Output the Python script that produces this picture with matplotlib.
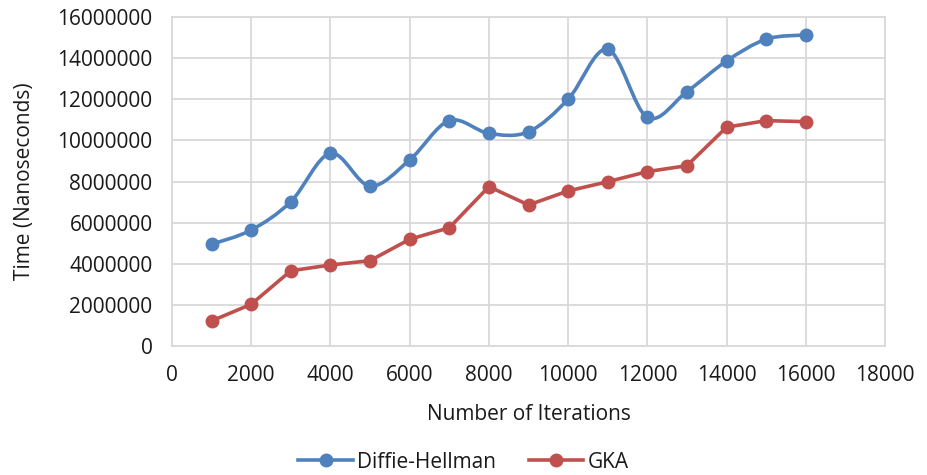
import numpy as np
import matplotlib.pyplot as plt
from matplotlib.path import Path
from matplotlib.patches import PathPatch
from matplotlib.lines import Line2D

plt.rcParams['font.family'] = ['Open Sans', 'DejaVu Sans']

iterations = [1000, 2000, 3000, 4000, 5000, 6000, 7000, 8000,
              9000, 10000, 11000, 12000, 13000, 14000, 15000, 16000]
diffie_hellman = [4950000, 5640000, 7020000, 9370000, 7780000, 9050000, 10960000, 10340000,
                  10420000, 12000000, 14430000, 11120000, 12370000, 13860000, 14920000, 15130000]
gka = [1220000, 2030000, 3660000, 3940000, 4150000, 5190000, 5750000, 7750000,
       6860000, 7540000, 7990000, 8480000, 8770000, 10640000, 10960000, 10910000]

blue = '#4F81BD'
red = '#C0504D'


def smooth_path(x, y):
    # bezier segments through every point, like a spreadsheet "smoothed line"
    p = np.column_stack([x, y]).astype(float)
    n = len(p)
    verts = [p[0]]
    codes = [Path.MOVETO]
    for i in range(n - 1):
        p_prev = p[i - 1] if i > 0 else p[i]
        p_next2 = p[i + 2] if i + 2 < n else p[i + 1]
        c1 = p[i] + (p[i + 1] - p_prev) / 6
        c2 = p[i + 1] - (p_next2 - p[i]) / 6
        verts += [c1, c2, p[i + 1]]
        codes += [Path.CURVE4] * 3
    return Path(verts, codes)


fig = plt.figure(figsize=(9.27, 4.75), dpi=100)
ax = fig.add_axes([172 / 927, 1 - 346 / 475, (885 - 172) / 927, (346 - 17) / 475])

# Diffie-Hellman drawn smoothed, GKA with straight segments
ax.add_patch(PathPatch(smooth_path(iterations, diffie_hellman), fill=False, edgecolor=blue,
                       lw=2.6, capstyle='round', joinstyle='round', zorder=3))
ax.plot(iterations, diffie_hellman, 'o', color=blue, markersize=9, zorder=4)
ax.plot(iterations, gka, '-o', color=red, lw=2.6, markersize=9, zorder=4,
        solid_joinstyle='round')

ax.set_xlim(0, 18000)
ax.set_ylim(0, 16000000)
ax.set_xticks(np.arange(0, 18001, 2000))
ax.set_yticks(np.arange(0, 16000001, 2000000))
ax.set_xticklabels([str(v) for v in range(0, 18001, 2000)])
ax.set_yticklabels([str(v) for v in range(0, 16000001, 2000000)])
ax.grid(True, color='#d9d9d9', lw=1.3)
ax.set_axisbelow(True)
for s in ax.spines.values():
    s.set_color('#d9d9d9')
    s.set_linewidth(1.3)
ax.tick_params(length=0, labelsize=15, colors='#1a1a1a', pad=14)

ax.set_xlabel('Number of Iterations', fontsize=15, color='#1a1a1a', labelpad=13)
ax.set_ylabel('Time (Nanoseconds)', fontsize=15, color='#1a1a1a', labelpad=16)

handles = [Line2D([], [], color=blue, lw=2.6, marker='o', markersize=9),
           Line2D([], [], color=red, lw=2.6, marker='o', markersize=9)]
fig.legend(handles, ['Diffie-Hellman', 'GKA'], loc='center', bbox_to_anchor=(0.5, 1 - 462 / 475),
           ncol=2, frameon=False, fontsize=15, handlelength=2.6, handletextpad=0.2,
           columnspacing=1.6, labelcolor='#1a1a1a')

fig.savefig('out.png', dpi=100, facecolor='white')
